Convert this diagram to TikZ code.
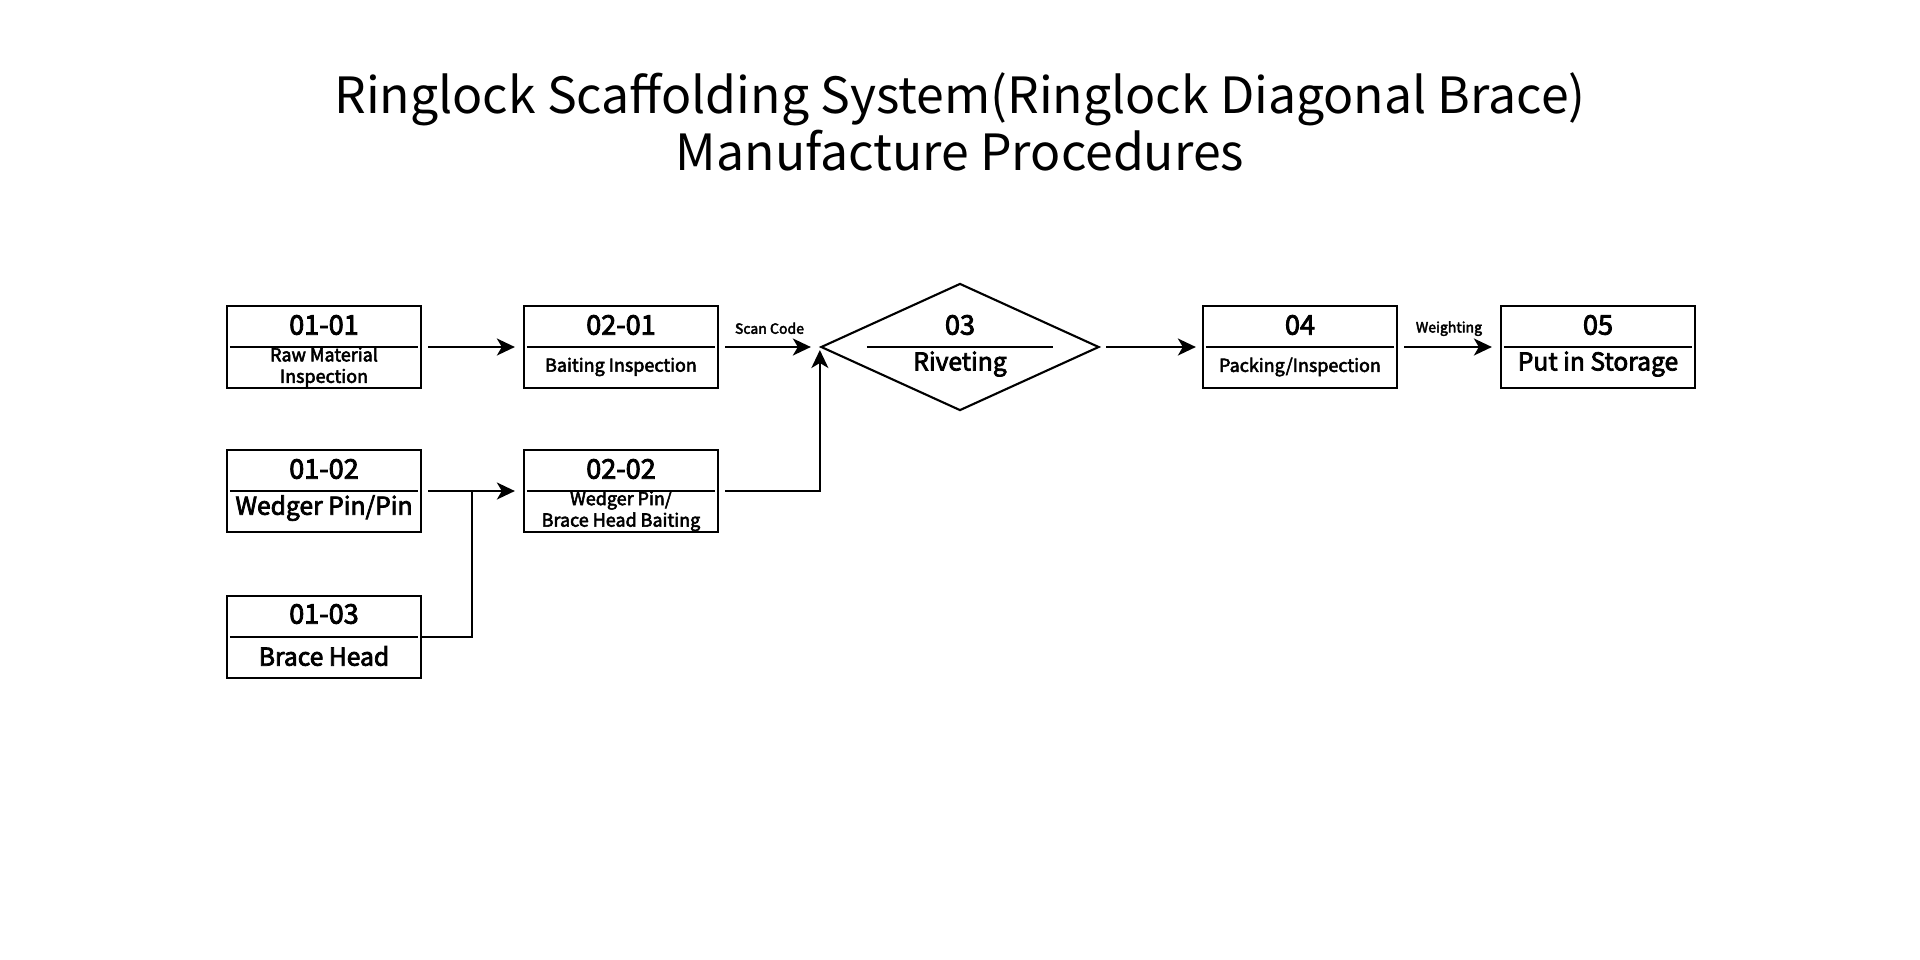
\documentclass[tikz,border=0pt]{standalone}
\usepackage{fontspec}
\setmainfont{Noto Sans CJK SC}
\newfontfamily\boxfont[FakeBold=3]{Noto Sans CJK SC}
\usepackage{tikz}
\usetikzlibrary{shapes.geometric}
\usetikzlibrary{arrows.meta}
\tikzstyle{stepcell} = [rectangle, minimum width=1.94cm, minimum height=0.82cm, draw=black, line width=0.6pt, inner sep=0pt]
\tikzstyle{rivcell} = [diamond, minimum width=2.78cm, minimum height=1.27cm, draw=black, line width=0.6pt, inner sep=0pt]
\tikzstyle{codetext} = [font=\boxfont\fontsize{7.7}{8}\selectfont, inner sep=0pt]
\tikzstyle{smalltext} = [font=\boxfont\fontsize{5.1}{6.1}\selectfont, align=center, inner sep=0pt]
\tikzstyle{bigtext} = [font=\boxfont\fontsize{7.0}{7.5}\selectfont, align=center, inner sep=0pt]
\tikzstyle{flowtext} = [font=\boxfont\fontsize{4.0}{4.2}\selectfont, inner sep=0pt]
\tikzstyle{divider} = [line width=0.6pt]
\tikzstyle{flow} = [line width=0.6pt, -{Stealth[length=0.18cm, width=0.17cm, inset=0.05cm]}]
\def \dvd{0.04cm}

\begin{document}
\begin{tikzpicture}[x=0.01cm, y=-0.01cm]
\useasboundingbox (0, 0) rectangle (1920, 960);

% Title
\node[font=\fontsize{14.2}{16.4}\selectfont, align=center] (title) at (960, 122)
  {Ringlock Scaffolding System(Ringlock Diagonal Brace)\\Manufacture Procedures};

% Boxes, first column: raw parts
\node[stepcell] (n0101) at (324, 347) {};
\node[stepcell] (n0102) at (324, 491) {};
\node[stepcell] (n0103) at (324, 637) {};
% Second column: baiting
\node[stepcell] (n0201) at (621, 347) {};
\node[stepcell] (n0202) at (621, 491) {};
% Riveting, packing, storage
\node[rivcell] (n03) at (960, 347) {};
\node[stepcell] (n04) at (1300, 347) {};
\node[stepcell] (n05) at (1598, 347) {};

% Dividers
\foreach \b in {n0101, n0102, n0103, n0201, n0202, n04, n05}
  \draw[divider] ([xshift=\dvd]\b.west) -- ([xshift=-\dvd]\b.east);
\draw[divider] ([xshift=-0.93cm]n03.center) -- ([xshift=0.93cm]n03.center);

% Codes
\node[codetext] (c0101) at (324, 325) {01-01};
\node[codetext] (c0102) at (324, 469) {01-02};
\node[codetext] (c0103) at (324, 614) {01-03};
\node[codetext] (c0201) at (621, 325) {02-01};
\node[codetext] (c0202) at (621, 469) {02-02};
\node[codetext] (c03) at (960, 325) {03};
\node[codetext] (c04) at (1300, 325) {04};
\node[codetext] (c05) at (1598, 325) {05};

% Step names
\node[smalltext] (t0101) at (324, 367) {Raw Material\\Inspection};
\node[bigtext] (t0102) at (324, 508) {Wedger Pin/Pin};
\node[bigtext] (t0103) at (324, 656) {Brace Head};
\node[smalltext] (t0201) at (621, 367) {Baiting Inspection};
\node[smalltext] (t0202) at (621, 511) {Wedger Pin/\\Brace Head Baiting};
\node[bigtext] (t03) at (960, 364) {Riveting};
\node[smalltext] (t04) at (1300, 367) {Packing/Inspection};
\node[bigtext] (t05) at (1598, 364) {Put in Storage};

% Connectors
\coordinate (jn) at (472, 491);
\draw[flow, shorten <=0.06cm, shorten >=0.08cm] (n0101.east) -- (n0201.west);
\draw[flow, shorten <=0.06cm, shorten >=0.08cm] (n0102.east) -- (n0202.west);
\draw[divider] (n0103.east) -| (jn);
\draw[flow, shorten <=0.06cm, shorten >=0.09cm] (n0201.east) -- (n03.west)
  node[flowtext, pos=0.5, above=0.12cm] (scan) {Scan Code};
\draw[flow, shorten <=0.06cm, shorten >=0.03cm] (n0202.east) -| (n03.west);
\draw[flow, shorten <=0.06cm, shorten >=0.06cm] (n03.east) -- (n04.west);
\draw[flow, shorten <=0.06cm, shorten >=0.08cm] (n04.east) -- (n05.west)
  node[flowtext, pos=0.5, above=0.10cm] (wgt) {Weighting};
\end{tikzpicture}
\end{document}
